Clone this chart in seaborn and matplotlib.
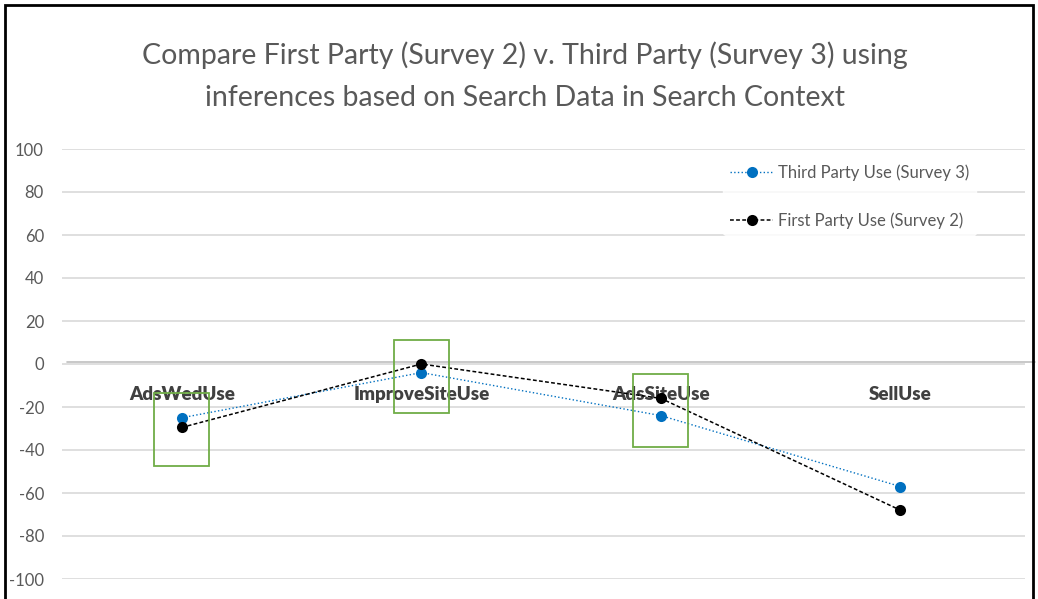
import matplotlib
matplotlib.use("Agg")
import matplotlib.pyplot as plt
import matplotlib.patches as patches
import pandas as pd
import seaborn as sns

# ------- Data -------
categories = ["AdsWedUse", "ImproveSiteUse", "AdsSiteUse", "SellUse"]
third_party = [-25, -4, -24, -57]      # Survey 3
first_party = [-29.5, 0, -16, -68]     # Survey 2
y_ticks = [-100, -80, -60, -40, -20, 0, 20, 40, 60, 80, 100]

# highlight boxes: (category index, y bottom, y top)
boxes = [(0, -47.5, -13.5), (1, -23, 11), (2, -38.5, -4.5)]

title = ("Compare First Party (Survey 2) v. Third Party (Survey 3) using\n"
         "inferences based on Search Data in Search Context")

sns.set_theme(style="white")
plt.rcParams["font.family"] = ["Lato", "DejaVu Sans"]

df = pd.DataFrame({
    "category": categories * 2,
    "value": third_party + first_party,
    "series": ["Third Party Use (Survey 3)"] * 4 + ["First Party Use (Survey 2)"] * 4,
})

fig = plt.figure(figsize=(10.38, 5.99), dpi=100)
ax = fig.add_axes([62 / 1038, 1 - 579 / 599, (1025 - 62) / 1038, (579 - 149) / 599])

sns.lineplot(data=df[df.series.str.startswith("Third")], x="category", y="value",
             ax=ax, color="#0070C0", linestyle=":", linewidth=1.0, marker="o",
             markersize=8, markeredgewidth=0, sort=False,
             label="Third Party Use (Survey 3)", zorder=3)
sns.lineplot(data=df[df.series.str.startswith("First")], x="category", y="value",
             ax=ax, color="black", linestyle=(0, (2.5, 1.5)), linewidth=1.1, marker="o",
             markersize=8, markeredgewidth=0, sort=False,
             label="First Party Use (Survey 2)", zorder=4)

ax.set_xlim(-0.5, 3.52)
ax.set_ylim(-100, 100)
ax.set_yticks(y_ticks)
ax.set_yticklabels([str(v) for v in y_ticks], color="#595959", fontsize=12)
ax.tick_params(axis="y", length=0, pad=13)
ax.set_xticks([])
ax.set_xlabel("")
ax.set_ylabel("")
ax.grid(axis="y", color="#d9d9d9", linewidth=1.2)
ax.set_axisbelow(True)
for s in ax.spines.values():
    s.set_visible(False)
ax.axhline(1, color="#bfbfbf", linewidth=1.2, xmin=0.005, xmax=1.01, clip_on=False, zorder=1)

# category labels sitting just below the zero axis
for i, c in enumerate(categories):
    ax.text(i, -14, c, ha="center", va="center", fontsize=13.5, fontweight="heavy",
            color="#404040", zorder=2)

for i, y0, y1 in boxes:
    ax.add_patch(patches.Rectangle((i - 0.115, y0), 0.23, y1 - y0, fill=False,
                                   edgecolor="#70AD47", linewidth=1.3, zorder=5))

leg = ax.legend(loc="upper right", bbox_to_anchor=(0.958, 1.0), frameon=True,
                fontsize=12, handlelength=2.6, handletextpad=0.3,
                labelspacing=1.9, borderpad=0.4, labelcolor="#595959")
leg.get_frame().set_facecolor("white")
leg.get_frame().set_edgecolor("white")
leg.set_zorder(6)

fig.text(0.506, 0.873, title, ha="center", va="center", fontsize=20.5,
         color="#595959", linespacing=1.75)

# outer frame of the screenshot
fig.add_artist(patches.Rectangle((5 / 1038, -0.01), 1028 / 1038, 1 - 5 / 599 + 0.01,
                                 transform=fig.transFigure, fill=False,
                                 edgecolor="black", linewidth=2))

fig.savefig("out.png", dpi=100)
